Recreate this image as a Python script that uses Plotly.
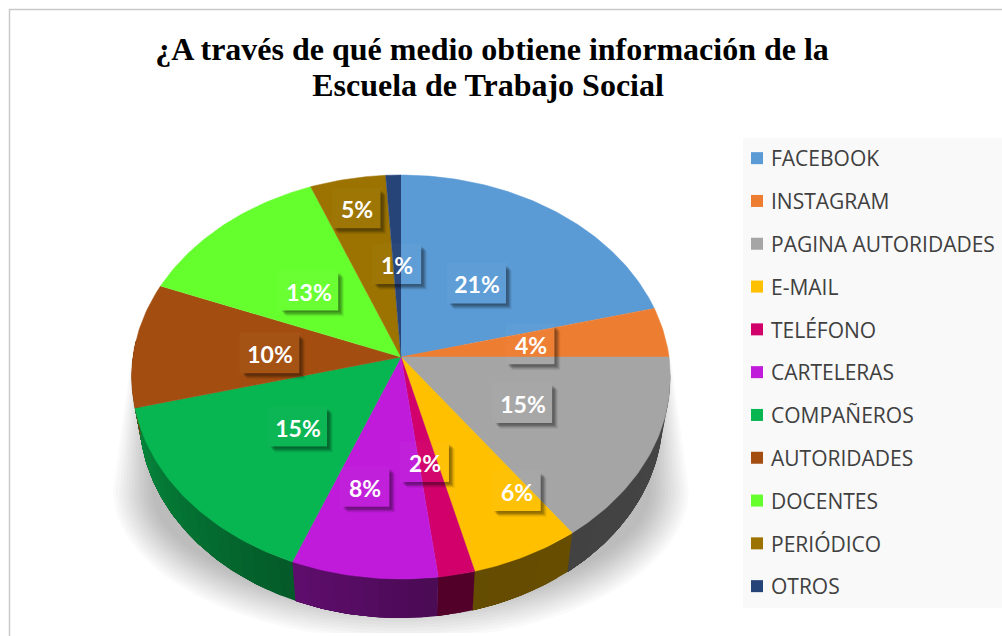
import numpy as np
import plotly.graph_objects as go

# ---------- data ----------
TITLE_LINE_1 = "¿A través de qué medio obtiene información de la"
TITLE_LINE_2 = "Escuela de Trabajo Social"
categories = ["FACEBOOK", "INSTAGRAM", "PAGINA AUTORIDADES", "E-MAIL", "TELÉFONO", "CARTELERAS",
              "COMPAÑEROS", "AUTORIDADES", "DOCENTES", "PERIÓDICO", "OTROS"]
shares = [21, 4, 15, 6, 2, 8, 15, 10, 13, 5, 1]

# ---------- styles / layout ----------
colors = ["#5B9BD5", "#ED7D31", "#A5A5A5", "#FFC000", "#D1006A", "#C01BDB",
          "#07B551", "#A34E10", "#66FF2E", "#9C7300", "#264478"]
label_radius = [.48, .49, .5, .75, .51, .63, .505, .49, .49, .82, .48]
label_nudge = [(0, 0), (0, 0), (0, 0), (24, -11), (-3, 0), (-13, -3), (2, 1), (0, 3), (-2, 1), (0, 0), (0, -1)]
W, H = 1002, 636
CX, CY, RX, RZ, PERSP = 401, 357, 268, 200, 0.099
DEPTH, BOTTOM_SCALE = 39, 0.972


def project(theta_deg, r=1.0):
    t = np.radians(theta_deg)
    u, v = r * np.sin(t), r * np.cos(t)
    d = 1 + PERSP * v
    return CX + RX * u / d, CY - RZ * v / d


def project_bottom(theta_deg):
    x, y = project(theta_deg)
    return CX + (x - CX) * BOTTOM_SCALE, y + DEPTH


def shade(c, f=1.0):
    r, g, b = int(c[1:3], 16), int(c[3:5], 16), int(c[5:7], 16)
    return f"rgb({r*f:.0f},{g*f:.0f},{b*f:.0f})"


def side_factor(theta):
    return float(np.interp(theta, [90, 175, 202, 256, 275], [.42, .39, .5, .75, .78]))


fig = go.Figure()
poly = dict(mode="lines", fill="toself", hoverinfo="skip", showlegend=False)

# soft ground shadow
for k in range(14):
    t = np.radians(np.linspace(180, 360, 90))
    rx, ry = 288 - 3 * k, 150 - 3 * k
    sx = CX + rx * np.cos(t)
    sy = np.minimum(490 - ry * np.sin(t), 633)
    px = np.r_[CX - 268 + k, sx, CX + 268 - k]
    py = np.r_[345, sy, 345]
    fig.add_trace(go.Scatter(x=px, y=py, line=dict(width=0), fillcolor="rgba(0,0,0,0.018)", **poly))

total = sum(shares)
edges = np.r_[0, np.cumsum(shares)] / total * 360
mids = (edges[:-1] + edges[1:]) / 2

# rim (side wall): overlapping strips painted in order give a smooth shading
for i, col in enumerate(colors):
    a0, a1 = max(edges[i], 95), min(edges[i + 1], 275)
    if a1 <= a0:
        continue
    steps = np.linspace(a0, a1, max(2, int((a1 - a0) / 3) + 2))
    for s0, s1 in zip(steps[:-1], steps[1:]):
        arc = np.linspace(s0, a1, max(3, int(a1 - s0) + 2))
        tx, ty = project(arc)
        bx, by = project_bottom(arc[::-1])
        c = shade(col, side_factor((s0 + s1) / 2))
        fig.add_trace(go.Scatter(x=np.r_[tx, bx], y=np.r_[ty, by], line=dict(width=0),
                                 fillcolor=c, **poly))

# top face
for i, col in enumerate(colors):
    arc = np.linspace(edges[i], edges[i + 1], max(3, int(shares[i] * 4)))
    x, y = project(arc)
    fig.add_trace(go.Scatter(x=np.r_[CX, x], y=np.r_[CY, y], name=categories[i],
                             line=dict(width=.5, color=col), fillcolor=col,
                             mode="lines", fill="toself", showlegend=False,
                             hovertemplate="%{fullData.name}<extra></extra>"))

# legend
for name, col in zip(categories, colors):
    fig.add_trace(go.Scatter(x=[None], y=[None], mode="markers", name=name, legendgroup=name,
                             marker=dict(symbol="square", size=15, color=col)))

shapes = [
    dict(type="rect", xref="x", yref="y", x0=743, x1=W, y0=138, y1=608,
         fillcolor="#F9F9F9", line=dict(width=0), layer="below"),
    dict(type="path", xref="x", yref="y", path=f"M9.5,{H} L9.5,9.5 L{W},9.5",
         line=dict(color="#C9C9C9", width=1.5), layer="below"),
]
annotations = []
for i, v in enumerate(shares):
    text = f"{round(v)}%"
    lx, ly = project(mids[i], label_radius[i])
    lx, ly = float(lx) + label_nudge[i][0], float(ly) + label_nudge[i][1]
    bw, bh = (58 if len(text) == 3 else 48), 39
    x0, x1, y0, y1 = lx - bw / 2, lx + bw / 2, ly - bh / 2, ly + bh / 2
    for off, alpha in ((1.5, .14), (3, .16), (4, .12), (5, .08), (6, .05)):
        path = (f"M{x0+off},{y1} L{x0+off},{y1+off} L{x1+off},{y1+off} L{x1+off},{y0+off} "
                f"L{x1},{y0+off} L{x1},{y1} Z")
        shapes.append(dict(type="path", xref="x", yref="y", path=path,
                           fillcolor=f"rgba(0,0,0,{alpha})", line=dict(width=0)))
    annotations.append(dict(x=lx, y=ly, xref="x", yref="y", text=f"<b>{text}</b>", showarrow=False,
                            width=bw, height=bh, align="center", valign="middle",
                            bgcolor="rgba(255,255,255,0.025)",
                            font=dict(family="Lato", size=23, color="white")))

fig.update_layout(
    width=W, height=H, margin=dict(l=0, r=0, t=0, b=0, autoexpand=False),
    paper_bgcolor="white", plot_bgcolor="white", hovermode="closest",
    title=dict(text=f"<b>{TITLE_LINE_1}<br>{TITLE_LINE_2}&nbsp;</b>", x=492 / W, xanchor="center",
               y=1 - 60 / H, yanchor="top", pad=dict(t=0, b=0),
               font=dict(family="Liberation Serif", size=32, color="black")),
    xaxis=dict(range=[0, W], visible=False, fixedrange=True),
    yaxis=dict(range=[H, 0], visible=False, fixedrange=True),
    legend=dict(x=731 / W, xanchor="left", y=1 - 138 / H, yanchor="top", bgcolor="rgba(0,0,0,0)",
                tracegroupgap=12.5, traceorder="grouped", itemsizing="constant",
                font=dict(family="Open Sans", size=21, color="#404040")),
    shapes=shapes, annotations=annotations, showlegend=True,
)

post = """
document.body.style.margin = '0';
document.querySelectorAll('.legendsymbols').forEach(function (g) { g.setAttribute('transform', 'translate(6,0)'); });
document.querySelectorAll('.gtitle tspan.line').forEach(function (t, i) { if (i > 0) t.setAttribute('dy', '36px'); });
"""
fig.write_html("out.html", post_script=post, config=dict(displayModeBar=False))
